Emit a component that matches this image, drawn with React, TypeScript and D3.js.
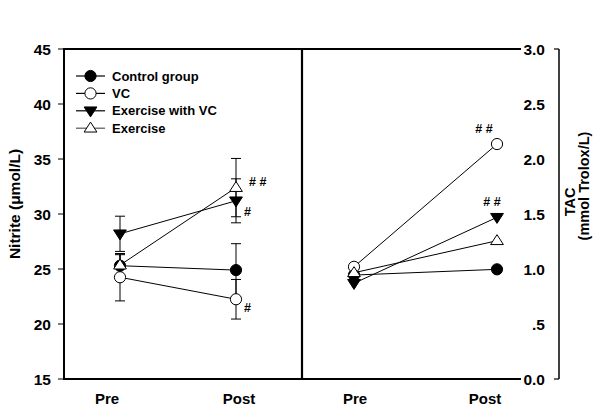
import React from "react";
import * as d3 from "d3";

const timepoints = ["Pre", "Post"];
const groups = ["Control group", "VC", "Exercise with VC", "Exercise"];
const markerTypes = ["filledCircle", "openCircle", "filledTriDown", "openTriUp"];

// Nitrite (µmol/L), mean and SE per group, [Pre, Post]
const nitriteControl = [25.3, 24.9];
const nitriteVC = [24.25, 22.25];
const nitriteExVC = [28.2, 31.2];
const nitriteEx = [25.35, 32.4];
const nitriteErrControl = [1.0, 2.4];
const nitriteErrVC = [2.15, 1.8];
const nitriteErrExVC = [1.6, 2.0];
const nitriteErrEx = [1.05, 2.65];

// TAC (mmol Trolox/L), [Pre, Post]
const tacControl = [0.945, 0.997];
const tacVC = [1.02, 2.136];
const tacExVC = [0.87, 1.47];
const tacEx = [0.966, 1.257];

const nitriteTicks = [15, 20, 25, 30, 35, 40, 45];
const tacTicks = [0, 0.5, 1.0, 1.5, 2.0, 2.5, 3.0];
const tacTickLabels = ["0.0", ".5", "1.0", "1.5", "2.0", "2.5", "3.0"];

// significance marks: [groupIndex, label]
const nitriteSig: [number, string][] = [[3, "# #"], [2, "#"], [1, "#"]];
const tacSig: [number, string][] = [[1, "# #"], [2, "# #"]];

const nitriteMeans = [nitriteControl, nitriteVC, nitriteExVC, nitriteEx];
const nitriteErrs = [nitriteErrControl, nitriteErrVC, nitriteErrExVC, nitriteErrEx];
const tacMeans = [tacControl, tacVC, tacExVC, tacEx];

const FONT = "'Liberation Sans', Arial, Helvetica, sans-serif";

function Marker({ type, x, y }: { type: string; x: number; y: number }) {
  const r = 5.6;
  if (type === "filledCircle") return <circle cx={x} cy={y} r={r} fill="#000" stroke="#000" strokeWidth={1} />;
  if (type === "openCircle") return <circle cx={x} cy={y} r={r} fill="#fff" stroke="#000" strokeWidth={1} />;
  const s = 6.4;
  if (type === "filledTriDown") {
    const p = `${x - s},${y - s * 0.6} ${x + s},${y - s * 0.6} ${x},${y + s * 0.95}`;
    return <polygon points={p} fill="#000" stroke="#000" strokeWidth={1} />;
  }
  const p = `${x - s},${y + s * 0.6} ${x + s},${y + s * 0.6} ${x},${y - s * 0.95}`;
  return <polygon points={p} fill="#fff" stroke="#000" strokeWidth={1} />;
}

export default function App() {
  const W = 600, H = 411;
  const top = 49, bottom = 379;
  const leftX = 64, divX = 302, rightEnd = 521, rightAxisX = 559;

  const yN = d3.scaleLinear().domain([15, 45]).range([bottom, top]);
  const yT = d3.scaleLinear().domain([0, 3]).range([bottom, top]);
  const xL = d3.scalePoint<string>().domain(timepoints).range([120, 236]);
  const xR = d3.scalePoint<string>().domain(timepoints).range([354, 497]);
  const labelL = d3.scalePoint<string>().domain(timepoints).range([107, 239]);
  const labelR = d3.scalePoint<string>().domain(timepoints).range([355, 485]);

  const line = (x: d3.ScalePoint<string>, y: d3.ScaleLinear<number, number>) =>
    d3.line<number>().x((_, i) => x(timepoints[i])!).y((d) => y(d));

  const lineN = line(xL, yN);
  const lineT = line(xR, yT);

  const nitriteSigOffsets: Record<number, [number, number]> = { 3: [13, -6], 2: [8, 11], 1: [8, 8] };
  const tacSigOffsets: Record<number, [number, number]> = { 1: [-13, -11], 2: [-5, -11] };

  return (
    <svg width={W} height={H} style={{ position: "absolute", left: 0, top: 0, background: "#fff" }} fontFamily={FONT}>
      <rect x={0} y={0} width={W} height={H} fill="#fff" />
      {/* frame */}
      <g stroke="#000" fill="none">
        <line x1={leftX} y1={top} x2={rightEnd} y2={top} strokeWidth={2} />
        <line x1={leftX} y1={bottom} x2={rightEnd} y2={bottom} strokeWidth={2} />
        <line x1={leftX} y1={top - 1} x2={leftX} y2={bottom + 1} strokeWidth={2} />
        <line x1={divX} y1={top - 1} x2={divX} y2={bottom + 1} strokeWidth={2.2} />
        <line x1={rightAxisX} y1={top} x2={rightAxisX} y2={bottom} strokeWidth={1.5} />
        <line x1={rightAxisX - 5} y1={yT(3)} x2={rightAxisX} y2={yT(3)} strokeWidth={1.2} />
        <line x1={rightAxisX - 5} y1={yT(0)} x2={rightAxisX} y2={yT(0)} strokeWidth={1.2} />
      </g>
      {/* left ticks */}
      {nitriteTicks.map((t) => (
        <g key={"nt" + t}>
          <line x1={leftX - 6} x2={leftX} y1={yN(t)} y2={yN(t)} stroke="#000" strokeWidth={1} />
          <text x={51} y={yN(t)} dy="0.36em" textAnchor="end" fontSize={15.5} fontWeight="bold">{t}</text>
        </g>
      ))}
      {/* right tick labels */}
      {tacTicks.map((t, i) => (
        <text key={"tt" + t} x={545} y={yT(t)} dy="0.36em" textAnchor="end" fontSize={15.5} fontWeight="bold">{tacTickLabels[i]}</text>
      ))}
      {/* x labels */}
      {timepoints.map((tp) => (
        <g key={"xl" + tp}>
          <text x={labelL(tp)} y={404} textAnchor="middle" fontSize={15} fontWeight="bold">{tp}</text>
          <text x={labelR(tp)} y={404} textAnchor="middle" fontSize={15} fontWeight="bold">{tp}</text>
        </g>
      ))}
      {/* axis titles */}
      <text transform={`translate(20,204) rotate(-90)`} textAnchor="middle" fontSize={15.5} fontWeight="bold">
        Nitrite (μmol/L)
      </text>
      <text transform={`translate(575,202) rotate(-90)`} textAnchor="middle" fontSize={14.5} fontWeight="bold">TAC</text>
      <text transform={`translate(589,186) rotate(-90)`} textAnchor="middle" fontSize={14.5} fontWeight="bold">(mmol Trolox/L)</text>

      {/* left panel lines */}
      {nitriteMeans.map((m, gi) => (
        <path key={"nl" + gi} d={lineN(m)!} fill="none" stroke="#000" strokeWidth={1} />
      ))}
      {/* error bars */}
      {nitriteMeans.map((m, gi) =>
        m.map((v, ti) => {
          const x = xL(timepoints[ti])!;
          const e = nitriteErrs[gi][ti];
          const y1 = yN(v + e), y2 = yN(v - e);
          return (
            <g key={`eb${gi}-${ti}`} stroke="#000" strokeWidth={1}>
              <line x1={x} x2={x} y1={y1} y2={y2} />
              <line x1={x - 5} x2={x + 5} y1={y1} y2={y1} />
              <line x1={x - 5} x2={x + 5} y1={y2} y2={y2} />
            </g>
          );
        })
      )}
      {nitriteMeans.map((m, gi) =>
        m.map((v, ti) => <Marker key={`nm${gi}-${ti}`} type={markerTypes[gi]} x={xL(timepoints[ti])!} y={yN(v)} />)
      )}
      {nitriteSig.map(([gi, lab]) => (
        <text key={"ns" + gi} x={xL("Post")! + nitriteSigOffsets[gi][0]} y={yN(nitriteMeans[gi][1]) + nitriteSigOffsets[gi][1]}
          dy="0.36em" fontSize={12.5} fontWeight="bold">{lab}</text>
      ))}

      {/* right panel */}
      {tacMeans.map((m, gi) => (
        <path key={"tl" + gi} d={lineT(m)!} fill="none" stroke="#000" strokeWidth={1} />
      ))}
      {tacMeans.map((m, gi) =>
        m.map((v, ti) => <Marker key={`tm${gi}-${ti}`} type={markerTypes[gi]} x={xR(timepoints[ti])!} y={yT(v)} />)
      )}
      {tacSig.map(([gi, lab]) => (
        <text key={"ts" + gi} x={xR("Post")! + tacSigOffsets[gi][0]} y={yT(tacMeans[gi][1]) + tacSigOffsets[gi][1]}
          textAnchor="middle" fontSize={12.5} fontWeight="bold">{lab}</text>
      ))}

      {/* legend */}
      {groups.map((g, i) => {
        const ly = 76 + i * 17.4;
        return (
          <g key={"lg" + g}>
            <line x1={76} x2={105} y1={ly} y2={ly} stroke={i === 3 ? "#555" : "#000"} strokeWidth={1.2} />
            <Marker type={markerTypes[i]} x={90.5} y={ly} />
            <text x={112} y={ly} dy="0.36em" fontSize={13} fontWeight="bold">{g}</text>
          </g>
        );
      })}
    </svg>
  );
}
